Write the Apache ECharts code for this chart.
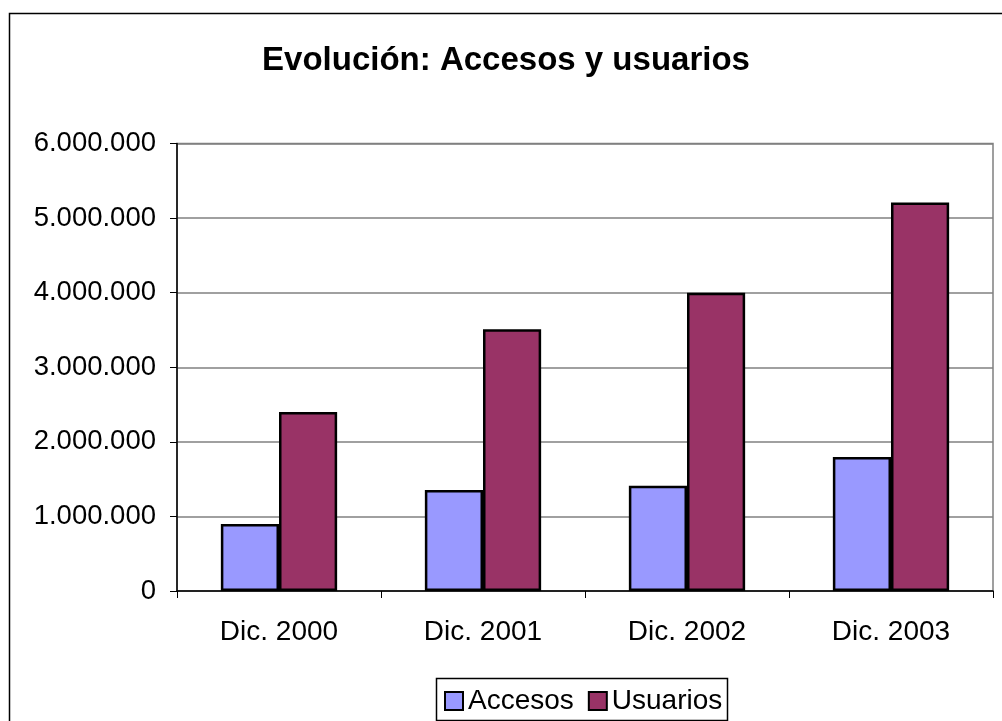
<!DOCTYPE html>
<html>
<head>
<meta charset="utf-8">
<script src="https://cdn.jsdelivr.net/npm/echarts@6/dist/echarts.min.js"></script>
<style>
html,body{margin:0;padding:0;background:#fff;}
#chart{width:1002px;height:721px;}
</style>
</head>
<body>
<div id="chart"></div>
<script>
const categories = ['Dic. 2000', 'Dic. 2001', 'Dic. 2002', 'Dic. 2003'];
const accesos = [900000, 1355000, 1410000, 1795000];
const usuarios = [2400000, 3510000, 4000000, 5210000];
const yTicks = [0, 1000000, 2000000, 3000000, 4000000, 5000000, 6000000];

function fmt(v){
  return String(v).replace(/\B(?=(\d{3})+(?!\d))/g, '.');
}

const chart = echarts.init(document.getElementById('chart'));
const font = 'Liberation Sans, Arial, sans-serif';
chart.setOption({
  animation: false,
  backgroundColor: '#fff',
  title: {
    text: 'Evolución: Accesos y usuarios',
    left: 501, top: 39, textAlign: 'center',
    textStyle: {fontFamily: font, fontSize: 33, fontWeight: 'bold', color: '#000'}
  },
  graphic: [
    {type: 'rect', shape: {x: 9.5, y: 13.5, width: 1010, height: 760},
     style: {fill: 'none', stroke: '#000', lineWidth: 1.5}, z: -1},
    {type: 'rect', shape: {x: 436.5, y: 678.5, width: 291, height: 42},
     style: {fill: '#fff', stroke: '#000', lineWidth: 1.5}, z: 0}
  ],
  legend: {
    left: 439, top: 682, itemWidth: 18, itemHeight: 18, itemGap: 14,
    icon: 'rect',
    textStyle: {fontFamily: font, fontSize: 28, color: '#000'},
    itemStyle: {borderColor: '#000', borderWidth: 2},
    data: ['Accesos', 'Usuarios'],
    z: 5
  },
  grid: {left: 177, right: 9, top: 143.5, bottom: 130, show: true, borderColor: '#808080', borderWidth: 1.5},
  xAxis: {
    type: 'category', data: categories,
    axisLine: {lineStyle: {color: '#000', width: 1.5}},
    axisTick: {show: true, length: 7, lineStyle: {color: '#000', width: 1}},
    axisLabel: {fontFamily: font, fontSize: 28, color: '#000', margin: 27}
  },
  yAxis: {
    type: 'value', min: 0, max: 6000000, interval: 1000000,
    axisLine: {show: true, lineStyle: {color: '#000', width: 1.5}},
    axisTick: {show: true, length: 7, lineStyle: {color: '#000', width: 1}},
    axisLabel: {fontFamily: font, fontSize: 27.5, color: '#000', margin: 21,
      formatter: v => yTicks.includes(v) ? fmt(v) : ''},
    splitLine: {show: true, lineStyle: {color: '#808080', width: 1.5}}
  },
  series: [
    {name: 'Accesos', type: 'bar', data: accesos, barGap: '0%', barCategoryGap: '43%',
     itemStyle: {color: '#9999FF', borderColor: '#000', borderWidth: 2.5}},
    {name: 'Usuarios', type: 'bar', data: usuarios,
     itemStyle: {color: '#993366', borderColor: '#000', borderWidth: 2.5}}
  ]
});
</script>
</body>
</html>
